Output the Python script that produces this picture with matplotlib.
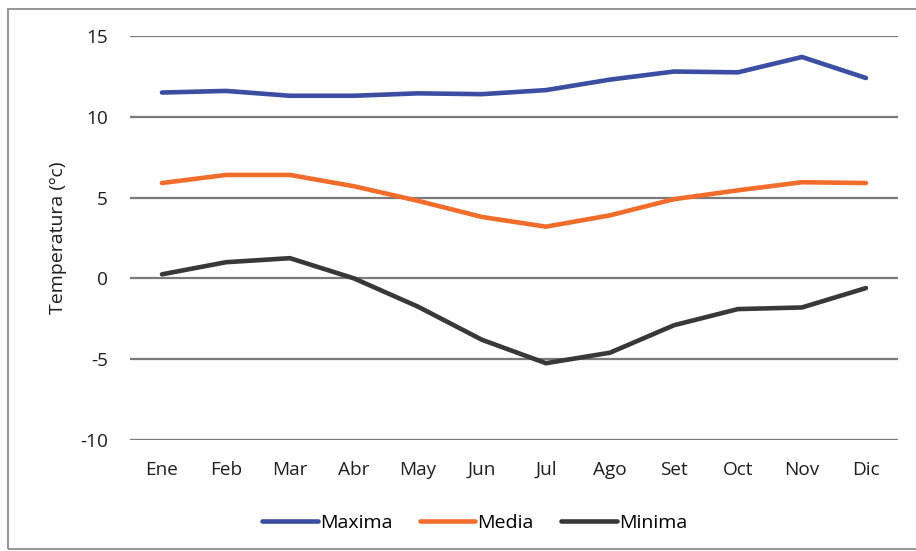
import matplotlib
matplotlib.use('Agg')
import matplotlib.pyplot as plt
from matplotlib.patches import Rectangle

plt.rcParams['font.family'] = ['Open Sans', 'DejaVu Sans']

meses = ['Ene', 'Feb', 'Mar', 'Abr', 'May', 'Jun', 'Jul', 'Ago', 'Set', 'Oct', 'Nov', 'Dic']
maxima = [11.5, 11.6, 11.3, 11.3, 11.45, 11.4, 11.65, 12.3, 12.8, 12.75, 13.7, 12.4]
media = [5.9, 6.4, 6.4, 5.7, 4.8, 3.8, 3.2, 3.9, 4.9, 5.45, 5.95, 5.9]
minima = [0.25, 1.0, 1.25, 0.0, -1.75, -3.8, -5.25, -4.6, -2.9, -1.9, -1.8, -0.6]
yticks = [-10, -5, 0, 5, 10, 15]

fig = plt.figure(figsize=(9.16, 5.51), dpi=100)
ax = fig.add_axes([0.1419, 0.2015, 0.8384, 0.7332])

# marco exterior del grafico
fig.patches.append(Rectangle((8 / 916, 0.003), 1.2, 1 - 9 / 551 - 0.003, transform=fig.transFigure,
                             fill=False, edgecolor='#8c8c8c', linewidth=1.3))

x = range(len(meses))
ax.plot(x, maxima, color='#3b4ea3', linewidth=3.3, solid_capstyle='round', label='Maxima', zorder=3)
ax.plot(x, media, color='#f26c2c', linewidth=3.3, solid_capstyle='round', label='Media', zorder=3)
ax.plot(x, minima, color='#383838', linewidth=3.3, solid_capstyle='round', label='Minima', zorder=3)

ax.set_xlim(-0.5, len(meses) - 0.5)
ax.set_ylim(-10, 15)
ax.set_yticks(yticks)
ax.set_yticklabels([str(v) for v in yticks])
ax.set_xticks(list(x))
ax.set_xticklabels(meses)
ax.grid(axis='y', color='#7a7a7a', linewidth=1.6)
ax.set_axisbelow(True)
for s in ax.spines.values():
    s.set_visible(False)
ax.tick_params(axis='both', length=0, labelsize=13.7, colors='#1e1e1e')
ax.tick_params(axis='x', pad=15)
ax.tick_params(axis='y', pad=16)
ax.set_ylabel('Temperatura (ºc)', fontsize=14, color='#1e1e1e', labelpad=9)

ax.legend(loc='upper center', bbox_to_anchor=(0.449, -0.14), ncol=3, frameon=False,
          fontsize=14, handlelength=2.85, handletextpad=0.12, columnspacing=1.4)

fig.savefig('out.png', dpi=100)
